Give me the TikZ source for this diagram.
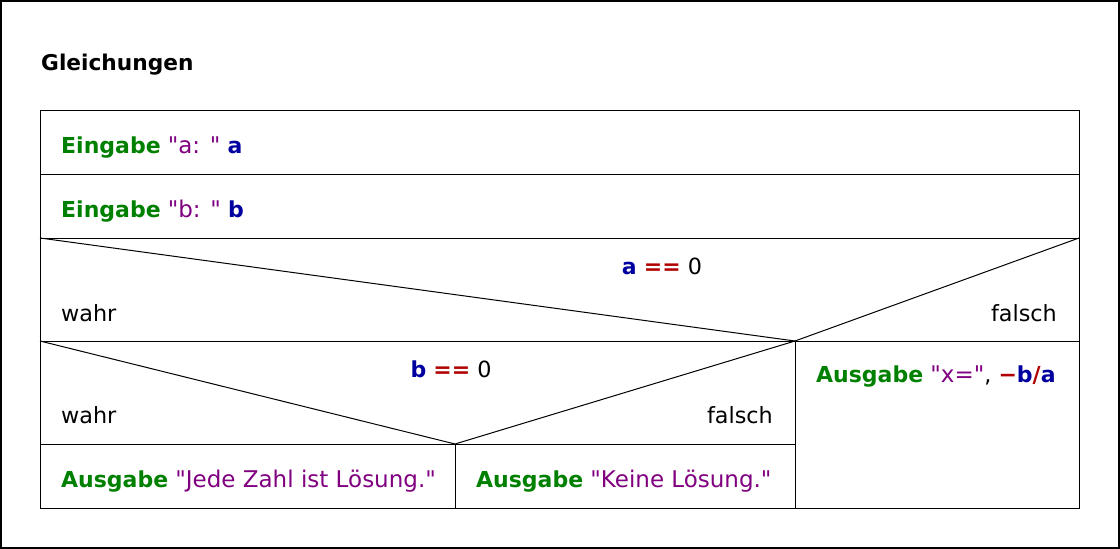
\documentclass[tikz,border=0pt]{standalone}
\usepackage{fontspec}
\setmainfont{DejaVu Sans}
\newfontfamily\djv{DejaVu Sans}
\definecolor{kw}{RGB}{0,128,0}
\definecolor{str}{RGB}{128,0,128}
\definecolor{var}{RGB}{0,0,160}
\definecolor{op}{RGB}{176,0,0}
\newcommand{\BF}[1]{{\fontsize{22}{26}\selectfont\bfseries #1}}
\newcommand{\KW}[1]{\textcolor{kw}{\BF{#1}}}
\newcommand{\STR}[1]{\textcolor{str}{\fontsize{23}{26}\selectfont #1}}
\newcommand{\VAR}[1]{\textcolor{var}{\BF{#1}}}
\newcommand{\OP}[1]{\textcolor{op}{\BF{#1}}}
\begin{document}
\begin{tikzpicture}[x=1pt,y=-1pt,
  txt/.style={inner sep=0pt,font=\djv\fontsize{22.3}{26}\selectfont},
  lbl/.style={txt,anchor=base west},
  lblr/.style={txt,anchor=base east},
  lblc/.style={txt,anchor=base},
  frame/.style={line width=1.2pt},
  struct/.style={line width=1pt}]
\useasboundingbox (0,0) rectangle (1120,549);
\draw[frame] (1,1) rectangle (1119,548);
\node[lbl] (title) at (41,70) {{\fontsize{21.7}{26}\selectfont\bfseries Gleichungen}};
% coordinates
\coordinate (tl) at (40,110);
\coordinate (br) at (1079,508);
\coordinate (r1l) at (40,174); \coordinate (r1r) at (1079,174);
\coordinate (r2l) at (40,238); \coordinate (r2r) at (1079,238);
\coordinate (d1l) at (40,341); \coordinate (d1r) at (1079,341);
\coordinate (d1v) at (795,341);
\coordinate (d2v) at (455,444);
\coordinate (d2l) at (40,444);
\coordinate (b1) at (795,508);
\coordinate (b2) at (455,508);
\draw[struct] (tl) rectangle (br);
\draw[struct] (r1l) -- (r1r);
\draw[struct] (r2l) -- (r2r);
\draw[struct] (d1l) -- (d1r);
\draw[struct] (r2l) -- (d1v) -- (r2r);
\draw[struct] (d1v) -- (b1);
\draw[struct] (d1l) -- (d2v) -- (d1v);
\draw[struct] (d2v) -- (b2);
\draw[struct] (d2l) -- (d1v |- d2v);
% texts
\node[lbl] (in1) at (61,153) {\KW{Eingabe} \STR{"a: "} \VAR{a}};
\node[lbl] (in2) at (61,217) {\KW{Eingabe} \STR{"b: "} \VAR{b}};
\node[lblc] (c1) at (662,274) {\VAR{a} \OP{==} 0};
\node[lbl] (w1) at (61,321) {wahr};
\node[lblr] (f1) at (1057,321) {falsch};
\node[lblc] (c2) at (451,377) {\VAR{b} \OP{==} 0};
\node[lbl] (w2) at (61,423) {wahr};
\node[lblr] (f2) at (773,423) {falsch};
\node[lbl] (o1) at (61,487) {\KW{Ausgabe} \STR{"Jede Zahl ist Lösung."}};
\node[lbl] (o2) at (476,487) {\KW{Ausgabe} \STR{"Keine Lösung."}};
\node[lbl] (o3) at (816,382) {\KW{Ausgabe} \STR{"x="}, \OP{−}\VAR{b}\OP{/}\VAR{a}};
\end{tikzpicture}
\end{document}
